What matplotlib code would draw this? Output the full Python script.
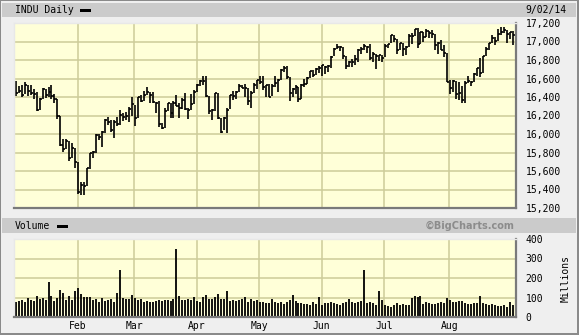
"""INDU daily HLC bars with volume panel, BigCharts style."""
import numpy as np
import matplotlib
matplotlib.use("Agg")
import matplotlib.pyplot as plt
from matplotlib.patches import Rectangle
from matplotlib.ticker import FuncFormatter

# trading-day index 0 = Jan 2 2014, last = Sep 2 2014
high = [
    16573, 16518, 16532, 16562, 16528, 16530, 16482, 16453, 16392, 16502, 16482, 16505, 16526, 16437, 16373, 16197, 15948, 15947, 15928, 15898, 15849,
    15699, 15482, 15477, 15632, 15798, 15820, 15995, 16002, 16032, 16167, 16186, 16149, 16156, 16182, 16263, 16228, 16241, 16293, 16399,
    16317, 16398, 16424, 16467, 16505, 16452, 16459, 16343, 16361, 16119, 16286, 16340, 16340, 16356, 16423, 16337, 16394, 16448, 16280, 16428, 16474,
    16543, 16581, 16632, 16631, 16412, 16272, 16440, 16446, 16170, 16179, 16283, 16425, 16460, 16460, 16545, 16528, 16537, 16499, 16466, 16551, 16588,
    16632, 16632, 16531, 16538, 16544, 16632, 16598, 16701, 16735, 16736, 16613, 16492, 16527, 16513, 16545, 16592, 16615, 16681, 16691, 16715, 16735,
    16750, 16735, 16741, 16845, 16925, 16970, 16953, 16943, 16845, 16790, 16810, 16850, 16917, 16942, 16978, 16956, 16978, 16885, 16865, 16856, 16851,
    16978, 16978, 17074, 17068, 17022, 16985, 16985, 16953, 17083, 17088, 17139, 17151, 17103, 17100, 17136, 17114, 17127, 17084, 16992, 17019, 16965, 16880,
    16581, 16580, 16575, 16558, 16520, 16570, 16632, 16572, 16661, 16716, 16822, 16841, 16939, 16979, 17068, 17051, 17135, 17154, 17153, 17122, 17099,
    17112,
]
low = [
    16416, 16439, 16405, 16429, 16416, 16421, 16375, 16244, 16260, 16374, 16394, 16399, 16375, 16340, 16160, 15873, 15804, 15838, 15704, 15743, 15633,
    15356, 15341, 15340, 15443, 15625, 15736, 15798, 15930, 15860, 16012, 16100, 16020, 15961, 16087, 16100, 16136, 16152, 16133, 16192,
    16083, 16171, 16345, 16359, 16422, 16340, 16330, 16227, 16076, 16050, 16065, 16245, 16168, 16176, 16302, 16169, 16275, 16258, 16163, 16264, 16325,
    16458, 16516, 16533, 16403, 16214, 16152, 16247, 16163, 16016, 16039, 16016, 16274, 16371, 16381, 16450, 16495, 16401, 16313, 16283, 16448, 16488,
    16539, 16475, 16402, 16395, 16412, 16505, 16455, 16583, 16674, 16598, 16356, 16399, 16432, 16347, 16374, 16513, 16542, 16606, 16620, 16633, 16661,
    16628, 16654, 16672, 16713, 16840, 16918, 16897, 16815, 16701, 16727, 16724, 16741, 16775, 16867, 16904, 16881, 16799, 16777, 16705, 16787, 16778,
    16828, 16930, 16979, 16996, 16863, 16905, 16839, 16859, 16945, 16973, 17061, 16931, 16978, 16991, 17052, 17038, 17041, 16907, 16866, 16910, 16834, 16558,
    16434, 16457, 16378, 16372, 16334, 16333, 16554, 16516, 16561, 16631, 16615, 16663, 16839, 16903, 16979, 16958, 17001, 17068, 17087, 16987, 17026,
    16960,
]
close = [
    16441, 16469, 16425, 16531, 16462, 16444, 16437, 16257, 16374, 16482, 16418, 16459, 16414, 16374, 16198, 15879, 15838, 15929, 15739, 15849, 15699,
    15373, 15445, 15441, 15629, 15795, 15801, 15994, 15964, 16027, 16154, 16130, 16041, 16133, 16104, 16208, 16180, 16198, 16273, 16322,
    16168, 16396, 16361, 16422, 16453, 16418, 16351, 16340, 16108, 16066, 16248, 16337, 16223, 16332, 16303, 16276, 16368, 16268, 16264, 16323, 16458,
    16532, 16573, 16572, 16413, 16246, 16257, 16438, 16171, 16027, 16174, 16263, 16425, 16409, 16449, 16514, 16502, 16501, 16361, 16448, 16535, 16581,
    16558, 16513, 16531, 16401, 16518, 16551, 16583, 16695, 16715, 16613, 16447, 16491, 16511, 16374, 16533, 16543, 16606, 16676, 16633, 16698, 16717,
    16743, 16722, 16737, 16836, 16924, 16943, 16945, 16843, 16734, 16776, 16781, 16808, 16906, 16921, 16947, 16937, 16818, 16868, 16846, 16851, 16827,
    16956, 16976, 17068, 17024, 16906, 16985, 16915, 16944, 17055, 17061, 17138, 16977, 17100, 17052, 17114, 17087, 17084, 16961, 16983, 16912, 16881, 16563,
    16493, 16569, 16430, 16444, 16368, 16554, 16570, 16561, 16652, 16713, 16663, 16839, 16919, 16979, 17040, 17001, 17076, 17107, 17122, 17079, 17098,
    17068,
]
# volume, millions
volume = [
    77, 84, 89, 79, 97, 85, 84, 109, 94, 97, 85, 181, 109, 84, 97, 140, 123, 89, 109, 89, 135,
    149, 120, 103, 103, 103, 89, 92, 75, 97, 80, 85, 90, 78, 125, 241, 100, 94, 94, 113,
    100, 89, 90, 78, 80, 75, 78, 80, 85, 80, 87, 88, 82, 90, 349, 109, 89, 89, 92, 89, 103,
    84, 75, 103, 113, 94, 92, 103, 120, 92, 92, 135, 80, 85, 80, 87, 92, 103, 75, 92, 80, 89,
    75, 78, 70, 72, 92, 78, 70, 78, 68, 75, 87, 114, 80, 70, 72, 68, 65, 60, 75, 68, 103,
    62, 70, 72, 76, 70, 65, 63, 70, 78, 92, 75, 72, 76, 80, 243, 70, 75, 72, 60, 135, 89,
    62, 58, 50, 60, 72, 63, 68, 60, 62, 99, 109, 103, 109, 68, 75, 70, 65, 65, 70, 75, 72, 99,
    85, 75, 78, 80, 80, 70, 66, 66, 70, 72, 109, 72, 65, 63, 65, 62, 58, 55, 60, 50, 79,
    63,
]
month_labels = ["Feb", "Mar", "Apr", "May", "Jun", "Jul", "Aug"]
month_start = [21, 40, 61, 82, 103, 124, 146]  # index of first trading day
price_ticks = list(range(15200, 17201, 200))
vol_ticks = [0, 100, 200, 300, 400]

W, H = 579, 335
BG = "#efefef"
BAND = "#cbcbcb"
PLOT_BG = "#ffffd8"
GRID = "#cdcc99"
MONO = "DejaVu Sans Mono"


def px(x0, y0, x1, y1):
    """pixel box (top-left origin) -> figure fraction rect"""
    return [x0 / W, 1 - y1 / H, (x1 - x0) / W, (y1 - y0) / H]


fig = plt.figure(figsize=(W / 100, H / 100), dpi=100, facecolor=BG)

# frame and header bands
for r, c in [((0, 0, W, H), "#8a8a8a"), ((1, 1, W - 2, H - 2), BG),
             ((2, 3, W - 3, 17), BAND), ((2, 218, W - 3, 233), BAND)]:
    x0, y0, x1, y1 = r
    fig.patches.append(Rectangle((x0 / W, 1 - y1 / H), (x1 - x0) / W, (y1 - y0) / H,
                                 transform=fig.transFigure, facecolor=c, edgecolor="none", zorder=-5))
for x0, y0 in [(80, 9), (57, 225)]:
    fig.patches.append(Rectangle((x0 / W, 1 - (y0 + 3) / H), 11 / W, 3 / H,
                                 transform=fig.transFigure, facecolor="black", edgecolor="none"))

fig.text(15 / W, 1 - 10 / H, "INDU Daily", family=MONO, fontsize=7, va="center", ha="left")
fig.text(566 / W, 1 - 10 / H, "9/02/14", family=MONO, fontsize=7, va="center", ha="right")
fig.text(15 / W, 1 - 226 / H, "Volume", family=MONO, fontsize=7, va="center", ha="left")
fig.text(515 / W, 1 - 226 / H, "\u00a9BigCharts.com", fontsize=7, weight="bold",
         color="#8c8c8c", va="center", ha="right")
fig.text(566 / W, 1 - 278 / H, "Millions", family=MONO, fontsize=7, rotation=90,
         va="center", ha="center")

x = np.arange(len(close))
grid_x = [m - 0.25 for m in month_start]
xlim = (-0.6, 168.1)

ax = fig.add_axes(px(14, 23, 516, 208))
ax2 = fig.add_axes(px(14, 239, 516, 317))

for a in (ax, ax2):
    a.set_facecolor(PLOT_BG)
    a.set_xlim(*xlim)
    a.set_xticks(grid_x)
    a.grid(True, color=GRID, lw=1.1)
    a.set_axisbelow(True)
    a.yaxis.tick_right()
    a.tick_params(length=0, labelsize=7, pad=7)
    for s in ("top", "left"):
        a.spines[s].set_color("#e8e8e8")
        a.spines[s].set_linewidth(1)
    for s in ("bottom", "right"):
        a.spines[s].set_color("#7a7a7a")
        a.spines[s].set_linewidth(1.6)

# price bars: high-low with close tick
ax.vlines(x, low, high, color="black", lw=1.2)
ax.hlines(close, x, x + 0.7, color="black", lw=1.2)
ax.set_ylim(15200, 17200)
ax.set_yticks(price_ticks)
ax.yaxis.set_major_formatter(FuncFormatter(lambda v, p: f"{int(v):,}"))
ax.set_xticklabels([])
for lab in ax.get_yticklabels():
    lab.set_family(MONO)

# volume
ax2.vlines(x, 0, volume, color="black", lw=1.3)
ax2.set_ylim(0, 400)
ax2.set_yticks(vol_ticks)
ax2.set_xticklabels(month_labels)
ax2.tick_params(axis="x", pad=3)
for lab in ax2.get_yticklabels() + ax2.get_xticklabels():
    lab.set_family(MONO)

fig.savefig("out.png", dpi=100, facecolor=BG)
